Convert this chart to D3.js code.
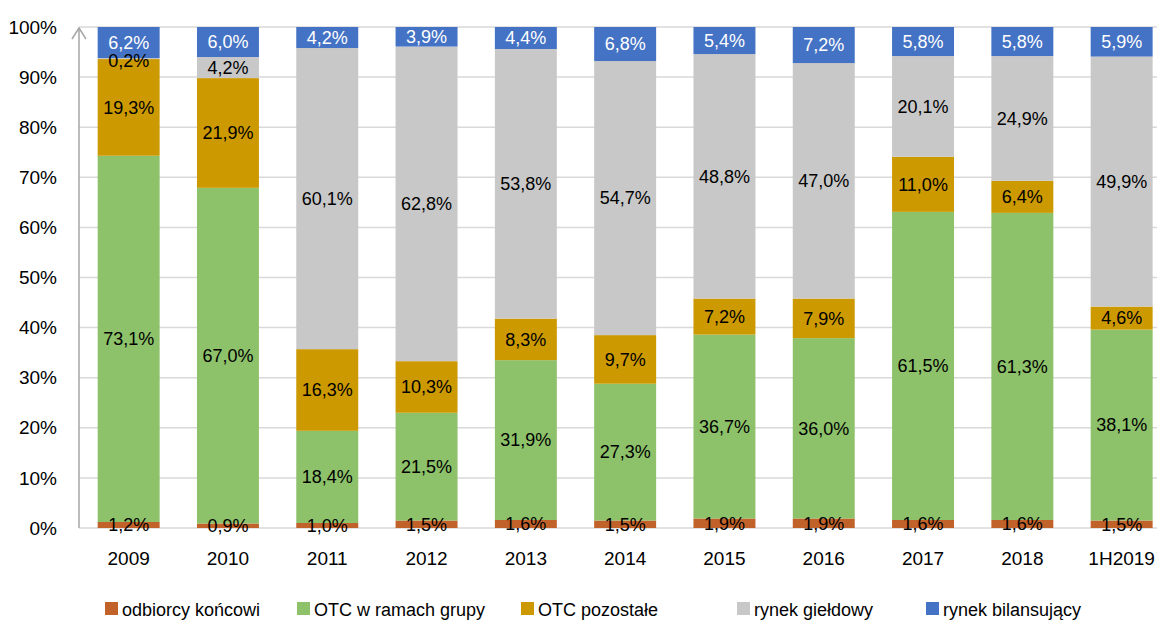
<!DOCTYPE html>
<html>
<head>
<meta charset="utf-8">
<script src="https://cdn.jsdelivr.net/npm/d3@7"></script>
<style>
  body { margin: 0; background: #fff; }
  text { font-family: "Liberation Sans", Arial, sans-serif; }
</style>
</head>
<body>
<div id="chart"></div>
<script>
const WIDTH = 1157;
const HEIGHT = 621;
const AXIS_X = 79;
const TOP_Y = 27;
const BOTTOM_Y = 528;

const years = ["2009", "2010", "2011", "2012", "2013", "2014", "2015", "2016", "2017", "2018", "1H2019"];
const seriesNames = ["odbiorcy końcowi", "OTC w ramach grupy", "OTC pozostałe", "rynek giełdowy", "rynek bilansujący"];
const odbiorcy = [1.2, 0.9, 1.0, 1.5, 1.6, 1.5, 1.9, 1.9, 1.6, 1.6, 1.5];
const otcGrupa = [73.1, 67.0, 18.4, 21.5, 31.9, 27.3, 36.7, 36.0, 61.5, 61.3, 38.1];
const otcPozostale = [19.3, 21.9, 16.3, 10.3, 8.3, 9.7, 7.2, 7.9, 11.0, 6.4, 4.6];
const gieldowy = [0.2, 4.2, 60.1, 62.8, 53.8, 54.7, 48.8, 47.0, 20.1, 24.9, 49.9];
const bilansujacy = [6.2, 6.0, 4.2, 3.9, 4.4, 6.8, 5.4, 7.2, 5.8, 5.8, 5.9];
const yTicks = [0, 10, 20, 30, 40, 50, 60, 70, 80, 90, 100];

const colors = ["#C0622A", "#8DC26A", "#CC9900", "#C8C8C8", "#4472C4"];
const labelColors = ["#000", "#000", "#000", "#000", "#fff"];

const allSeries = [odbiorcy, otcGrupa, otcPozostale, gieldowy, bilansujacy];
const rows = years.map((y, i) => {
  const r = { year: y };
  seriesNames.forEach((s, k) => r[s] = allSeries[k][i]);
  return r;
});

const stacked = d3.stack()
  .keys(seriesNames)
  .offset(d3.stackOffsetExpand)(rows);

const x = d3.scaleBand()
  .domain(years)
  .range([AXIS_X, AXIS_X + 11 * 99.3])
  .paddingInner(0.376)
  .paddingOuter(0.188);

const y = d3.scaleLinear()
  .domain([0, 1])
  .range([BOTTOM_Y, TOP_Y]);

const svg = d3.select("#chart")
  .append("svg")
  .attr("width", WIDTH)
  .attr("height", HEIGHT);

// gridlines
svg.append("g")
  .selectAll("line")
  .data(yTicks)
  .enter()
  .append("line")
  .attr("x1", AXIS_X)
  .attr("x2", WIDTH)
  .attr("y1", d => y(d / 100))
  .attr("y2", d => y(d / 100))
  .style("stroke", "#d9d9d9")
  .style("stroke-width", 1.5);

// y tick labels
svg.append("g")
  .selectAll("text")
  .data(yTicks)
  .enter()
  .append("text")
  .attr("x", 57)
  .attr("y", d => y(d / 100))
  .attr("dy", "0.35em")
  .attr("text-anchor", "end")
  .style("font-size", "19px")
  .style("fill", "#000")
  .text(d => d + "%");

// bars
const groups = svg.append("g")
  .selectAll("g")
  .data(stacked)
  .enter()
  .append("g")
  .style("fill", (d, k) => colors[k]);

groups.selectAll("rect")
  .data(d => d)
  .enter()
  .append("rect")
  .attr("x", d => x(d.data.year))
  .attr("width", x.bandwidth())
  .attr("y", d => y(d[1]))
  .attr("height", d => y(d[0]) - y(d[1]));

// y axis with arrow
svg.append("line")
  .attr("x1", AXIS_X).attr("x2", AXIS_X)
  .attr("y1", BOTTOM_Y).attr("y2", TOP_Y + 1)
  .style("stroke", "#a6a6a6")
  .style("stroke-width", 1.5);
svg.append("path")
  .attr("d", `M${AXIS_X - 7},${TOP_Y + 12}L${AXIS_X},${TOP_Y + 1}L${AXIS_X + 7},${TOP_Y + 12}`)
  .style("fill", "none")
  .style("stroke", "#a6a6a6")
  .style("stroke-width", 1.5);

// segment labels
stacked.forEach((layer, k) => {
  svg.append("g")
    .selectAll("text")
    .data(layer)
    .enter()
    .append("text")
    .attr("x", d => x(d.data.year) + x.bandwidth() / 2)
    .attr("y", d => y((d[0] + d[1]) / 2) + (k === 3 && allSeries[k][layer.indexOf(d)] < 1 ? 2 : 0))
    .attr("dy", "0.35em")
    .attr("text-anchor", "middle")
    .style("font-size", "18px")
    .style("fill", labelColors[k])
    .text((d, i) => allSeries[k][i].toFixed(1).replace(".", ",") + "%");
});

// x labels
svg.append("g")
  .selectAll("text")
  .data(years)
  .enter()
  .append("text")
  .attr("x", d => x(d) + x.bandwidth() / 2)
  .attr("y", 558)
  .attr("dy", "0.35em")
  .attr("text-anchor", "middle")
  .style("font-size", "19px")
  .text(d => d);

// legend
const legendX = [105, 297, 521, 737, 926];
const legend = svg.append("g")
  .selectAll("g")
  .data(seriesNames)
  .enter()
  .append("g")
  .attr("transform", (d, i) => `translate(${legendX[i]},602)`);
legend.append("rect")
  .attr("width", 13)
  .attr("height", 13)
  .style("fill", (d, i) => colors[i]);
legend.append("text")
  .attr("x", 17)
  .attr("y", 8)
  .attr("dy", "0.35em")
  .style("font-size", "18px")
  .text(d => d);
</script>
</body>
</html>
